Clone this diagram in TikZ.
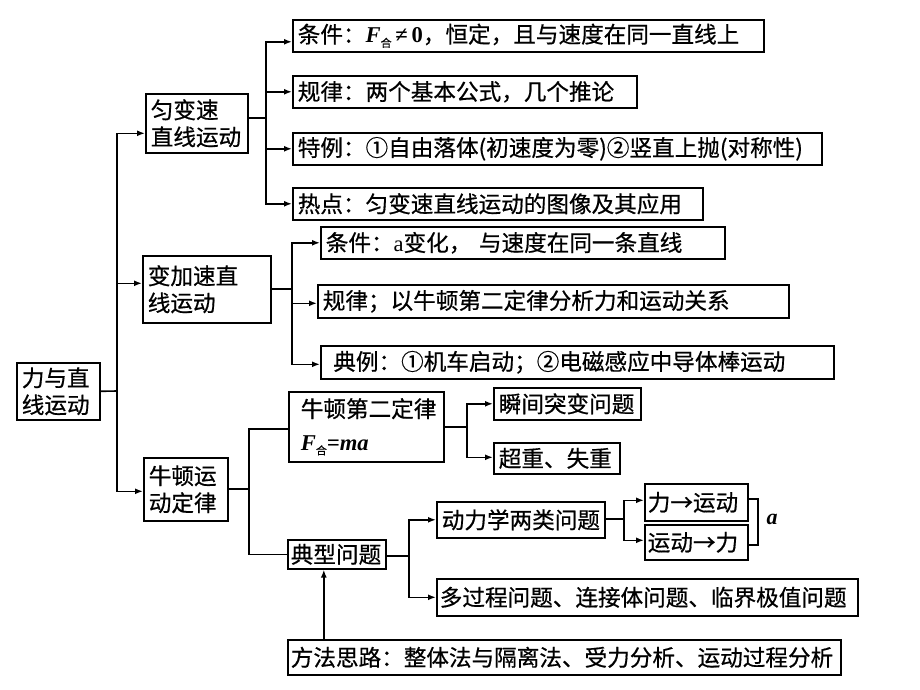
\documentclass[tikz,border=0pt]{standalone}
\usepackage{fontspec}
\setmainfont{Liberation Serif}
\newfontfamily\cjk[FakeBold=0.6]{Noto Sans CJK SC}
\usetikzlibrary{arrows.meta}
\newcommand\Fhe{{\rmfamily\bfseries\itshape F}\raisebox{-0.35ex}{\fontsize{11}{11}\selectfont 合}}
\begin{document}
\begin{tikzpicture}[x=1pt,y=-1pt,
  bx/.style={draw,line width=1.6pt,anchor=north west,inner xsep=5pt,inner ysep=0pt,
    align=left,font=\cjk\fontsize{22.6}{27}\selectfont},
  ln/.style={line width=1.6pt},
  ar/.style={line width=1.6pt,-{Latex[length=8pt,width=6pt]}}]
\useasboundingbox[fill=white] (0,0) rectangle (920,690);
% boxes: x1,y1 ; width = x2-x1 ; height = y2-y1
\node[bx,text width=461pt,minimum height=32pt] (c1) at (292,19) {条件：\Fhe{\rmfamily\bfseries\,≠\,0}，恒定，且与速度在同一直线上};
\node[bx,text width=334pt,minimum height=32pt] (c2) at (292,75) {规律：两个基本公式，几个推论};
\node[bx,text width=519pt,minimum height=32pt] (c3) at (292,132) {特例：①自由落体(初速度为零)②竖直上抛(对称性)};
\node[bx,text width=400pt,minimum height=32pt] (c4) at (292,187) {热点：匀变速直线运动的图像及其应用};
\node[bx,text width=92pt,minimum height=59pt] (uv) at (145,93) {匀变速\\直线运动};
\node[bx,text width=73pt,minimum height=57pt] (root) at (16,362) {力与直\\线运动};
\node[bx,text width=118pt,minimum height=67pt] (va) at (142,255) {变加速直\\线运动};
\node[bx,text width=394pt,minimum height=32pt] (d1) at (320,226) {条件：{\rmfamily a}变化，\ 与速度在同一条直线};
\node[bx,text width=461pt,minimum height=33pt] (d2) at (317,284) {规律；以牛顿第二定律分析力和运动关系};
\node[bx,text width=503pt,minimum height=33pt] (d3) at (320,345) {\ 典例：①机车启动；②电磁感应中导体棒运动};
\node[bx,text width=74pt,minimum height=63pt] (nl) at (143,457) {牛顿运\\动定律};
\node[bx,text width=131pt,inner xsep=12pt,minimum height=70pt] (n2) at (288,391) {牛顿第二定律\\[6pt]\Fhe{\rmfamily\bfseries\itshape =ma}};
\node[bx,text width=137pt,minimum height=32pt] (s1) at (493,387) {瞬间突变问题};
\node[bx,text width=116pt,minimum height=31pt] (s2) at (493,442) {超重、失重};
\node[bx,text width=92pt,inner xsep=3pt,minimum height=29pt] (tp) at (287,539) {典型问题};
\node[bx,text width=158pt,minimum height=36pt] (t1) at (436,501) {动力学两类问题};
\node[bx,text width=415pt,inner xsep=3pt,minimum height=37pt] (t2) at (436,578) {多过程问题、连接体问题、临界极值问题};
\node[bx,text width=547pt,inner xsep=3pt,minimum height=35pt] (fm) at (287,639) {方法思路：整体法与隔离法、受力分析、运动过程分析};
\node[bx,text width=97pt,inner xsep=3pt,minimum height=37pt] (f1) at (644,483) {力→运动};
\node[bx,text width=97pt,inner xsep=3pt,minimum height=35pt] (f2) at (644,524) {运动→力};
\node[font=\rmfamily\bfseries\itshape\fontsize{22}{22}\selectfont,anchor=center] (aa) at (772,519) {a};
% junctions
\coordinate (j0) at (117,391);
\coordinate (j1) at (266,118);
\coordinate (j2) at (292,289);
\coordinate (j3) at (249,489);
\coordinate (j4) at (467,427);
\coordinate (j5) at (409,556);
\coordinate (j6) at (624,519);
\coordinate (b1) at (758,499);
\coordinate (b2) at (758,545);
% root
\draw[ln] (root.east) -- (j0);
\draw[ar] (j0) |- ([yshift=-10pt]uv.west);
\draw[ar] (j0) |- ([yshift=6pt]va.west);
\draw[ar] (j0) |- ([yshift=-2pt]nl.west);
% uniform
\draw[ln] (uv.east |- j1) -- (j1);
\draw[ar] (j1) |- ([yshift=-6pt]c1.west);
\draw[ar] (j1) |- (c2.west);
\draw[ar] (j1) |- (c3.west);
\draw[ar] (j1) |- (c4.west);
% variable
\draw[ln] (va.east |- j2) -- (j2);
\draw[ar] (j2) |- (d1.west);
\draw[ar] (j2) |- ([yshift=-2pt]d2.west);
\draw[ar] (j2) |- ([yshift=-2pt]d3.west);
% newton
\draw[ln] (nl.east |- j3) -- (j3);
\draw[ln] (j3) |- ([yshift=-2pt]n2.west);
\draw[ln] (j3) |- (tp.west);
\draw[ln] (n2.east |- j4) -- (j4);
\draw[ar] (j4) |- (s1.west);
\draw[ar] (j4) |- ([yshift=1pt]s2.west);
\draw[ln] (tp.east |- j5) -- (j5);
\draw[ar] (j5) |- (t1.west);
\draw[ar] (j5) |- (t2.west);
\draw[ln] (t1.east |- j6) -- (j6);
\draw[ar] (j6) |- ([yshift=2pt]f1.west);
\draw[ar] (j6) |- ([yshift=2pt]f2.west);
\draw[ln] (f1.east |- b1) -- (b1) -- (b2) -- (f2.east |- b2);
\draw[ar] ([xshift=-13pt]fm.north -| tp.south) -- ([xshift=-13pt]tp.south);
\end{tikzpicture}
\end{document}
